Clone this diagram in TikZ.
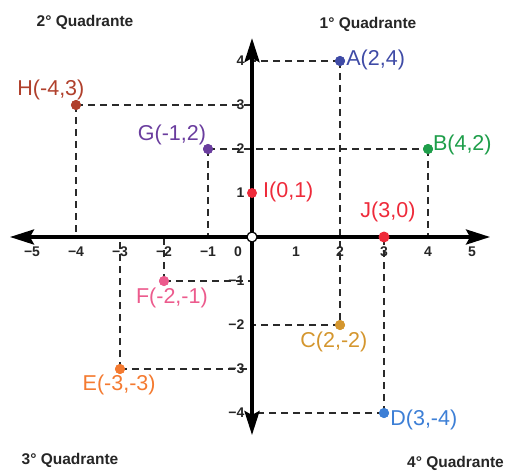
\documentclass[tikz,border=0pt]{standalone}
\usepackage{fontspec}
\setmainfont{Liberation Sans}
\usetikzlibrary{arrows.meta}
\definecolor{cA}{HTML}{3F4BA6}
\definecolor{cB}{HTML}{1E9E4A}
\definecolor{cC}{HTML}{D4962E}
\definecolor{cD}{HTML}{3D7FD6}
\definecolor{cE}{HTML}{F47A30}
\definecolor{cF}{HTML}{EC5B8D}
\definecolor{cG}{HTML}{6A3D9E}
\definecolor{cH}{HTML}{B0402C}
\definecolor{cI}{HTML}{EE2A3A}
\definecolor{dashgray}{HTML}{2A2A2A}
\begin{document}
\begin{tikzpicture}[x=44pt,y=44pt,
  axisline/.style={line width=3.5pt,
    {Stealth[length=24pt,width=15pt,inset=4pt]}-{Stealth[length=24pt,width=15pt,inset=4pt]}},
  guide/.style={draw=dashgray,line width=1.8pt,dash pattern=on 7pt off 5pt},
  dot/.style={circle,inner sep=0pt,minimum size=10pt,fill=#1},
  lbl/.style={text=#1,font=\fontsize{21.5}{24}\selectfont,inner sep=0pt},
  ticklbl/.style={font=\bfseries\fontsize{14}{16}\selectfont,inner sep=0pt,text=black!85},
  quad/.style={font=\bfseries\fontsize{15.5}{18}\selectfont,inner sep=0pt,text=black!85}]
\useasboundingbox (-5.727,-5.318) rectangle (5.795,5.386);

% points
\coordinate (O) at (0,0);
\node[dot=cA] (A) at (2,4) {};
\node[dot=cB] (B) at (4,2) {};
\node[dot=cC] (C) at (2,-2) {};
\node[dot=cD] (D) at (3,-4) {};
\node[dot=cE] (E) at (-3,-3) {};
\node[dot=cF] (F) at (-2,-1) {};
\node[dot=cG] (G) at (-1,2) {};
\node[dot=cH] (H) at (-4,3) {};

% dashed guides
\draw[guide] (A.center) -- (A.center -| O);
\draw[guide] (A.center) -- (C.center);
\draw[guide] (G.center) -- (B.center);
\draw[guide] (B.center) -- (B.center |- O);
\draw[guide] (C.center) -- (C.center -| O);
\draw[guide] (D.center) -- (D.center -| O);
\draw[guide] (D.center) -- (D.center |- O);
\draw[guide] (E.center) -- (E.center -| O);
\draw[guide] (E.center) -- (E.center |- O);
\draw[guide] (F.center) -- (F.center -| O);
\draw[guide] (F.center) -- (F.center |- O);
\draw[guide] (G.center) -- (G.center |- O);
\draw[guide] (H.center) -- (H.center -| O);
\draw[guide] (H.center) -- (H.center |- O);

% axes
\coordinate (xl) at (-5.5,0);
\coordinate (xr) at (5.41,0);
\coordinate (yt) at (0,4.52);
\coordinate (yb) at (0,-4.5);
\draw[axisline] (xl) -- (xr);
\draw[axisline] (yb) -- (yt);

% redraw dots on top
\foreach \p/\c in {A/cA,B/cB,C/cC,D/cD,E/cE,F/cF,G/cG,H/cH}{
  \fill[\c] (\p.center) circle (5pt);
}
\node[dot=cI] (I) at (0,1) {};
\node[dot=cI,minimum size=11pt] (J) at (3,0) {};
\node[circle,draw=black,line width=1.2pt,fill=white,inner sep=0pt,minimum size=10pt] (orig) at (O) {};

% x tick labels
\foreach \v/\t in {-5/−5,-4/−4,-3/−3,-2/−2,-1/−1,1/1,2/2,3/3,4/4,5/5}{
  \node[ticklbl] (xt\v) at (\v,-0.34) {\t};
}
\node[ticklbl] (xt0) at (-0.32,-0.34) {0};
% y tick labels
\foreach \v/\t in {4/4,3/3,2/2,1/1,-1/−1,-2/−2,-3/−3,-4/−4}{
  \node[ticklbl,anchor=east] (yt\v) at (-0.17,\v) {\t};
}

% point labels
\node[lbl=cA,anchor=west] (lA) at (2.14,4.02) {A(2,4)};
\node[lbl=cB,anchor=west] (lB) at (4.11,2.09) {B(4,2)};
\node[lbl=cC] (lC) at (1.86,-2.39) {C(2,-2)};
\node[lbl=cD,anchor=west] (lD) at (3.14,-4.16) {D(3,-4)};
\node[lbl=cE] (lE) at (-3.02,-3.36) {E(-3,-3)};
\node[lbl=cF] (lF) at (-1.82,-1.39) {F(-2,-1)};
\node[lbl=cG] (lG) at (-1.82,2.32) {G(-1,2)};
\node[lbl=cH] (lH) at (-4.57,3.34) {H(-4,3)};
\node[lbl=cI,anchor=west] (lI) at (0.25,1.02) {I(0,1)};
\node[lbl=cI] (lJ) at (3.09,0.57) {J(3,0)};

% quadrant labels
\node[quad] (q2) at (-3.795,4.886) {2° Quadrante};
\node[quad] (q1) at (2.636,4.841) {1° Quadrante};
\node[quad] (q3) at (-4.136,-5.068) {3° Quadrante};
\node[quad,anchor=west] (q4) at (3.523,-5.136) {4° Quadrante};
\end{tikzpicture}
\end{document}
